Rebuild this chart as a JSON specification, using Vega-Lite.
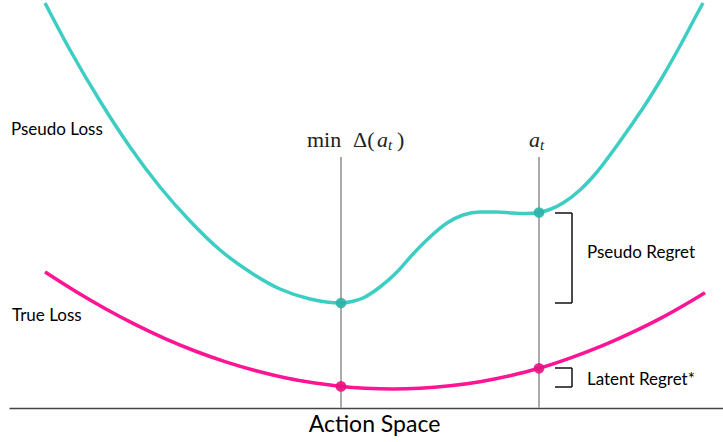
{
  "$schema": "https://vega.github.io/schema/vega-lite/v6.json",
  "width": 714,
  "height": 408,
  "autosize": {"type": "none"},
  "padding": {"left": 9, "top": 0, "right": 0, "bottom": 34},
  "background": "white",
  "config": {"view": {"stroke": null}},
  "datasets": {
    "pseudo": [
      {"x": 45, "loss": 405}, {"x": 70, "loss": 358}, {"x": 100, "loss": 307}, {"x": 130, "loss": 261},
      {"x": 160, "loss": 221}, {"x": 190, "loss": 187}, {"x": 220, "loss": 158}, {"x": 250, "loss": 136},
      {"x": 280, "loss": 119}, {"x": 310, "loss": 109}, {"x": 341, "loss": 105}, {"x": 352, "loss": 106.5},
      {"x": 363, "loss": 110}, {"x": 380, "loss": 121}, {"x": 397, "loss": 136}, {"x": 413, "loss": 154},
      {"x": 430, "loss": 171}, {"x": 447, "loss": 185}, {"x": 463, "loss": 193}, {"x": 480, "loss": 196},
      {"x": 497, "loss": 196}, {"x": 513, "loss": 195}, {"x": 526, "loss": 194.5}, {"x": 539, "loss": 195.5},
      {"x": 551, "loss": 199}, {"x": 563, "loss": 205}, {"x": 580, "loss": 218}, {"x": 597, "loss": 236},
      {"x": 613, "loss": 257}, {"x": 630, "loss": 281}, {"x": 647, "loss": 306}, {"x": 663, "loss": 332},
      {"x": 680, "loss": 362}, {"x": 697, "loss": 394}, {"x": 703, "loss": 405}
    ],
    "trueLoss": [
      {"x": 45, "loss": 136}, {"x": 75, "loss": 117}, {"x": 105, "loss": 99.5}, {"x": 135, "loss": 83.6},
      {"x": 165, "loss": 69.4}, {"x": 195, "loss": 57}, {"x": 225, "loss": 46.4}, {"x": 255, "loss": 37.5},
      {"x": 285, "loss": 30.3}, {"x": 315, "loss": 24.9}, {"x": 341, "loss": 21.6}, {"x": 365, "loss": 19.8},
      {"x": 393, "loss": 19}, {"x": 420, "loss": 19.7}, {"x": 450, "loss": 22.2}, {"x": 480, "loss": 26.3},
      {"x": 510, "loss": 32.3}, {"x": 539, "loss": 39.7}, {"x": 570, "loss": 49.9}, {"x": 600, "loss": 61.3},
      {"x": 630, "loss": 74.6}, {"x": 660, "loss": 89.4}, {"x": 690, "loss": 106.3}, {"x": 705, "loss": 115.3}
    ],
    "pseudoPts": [{"x": 341, "loss": 105}, {"x": 539, "loss": 195.5}],
    "truePts": [{"x": 341, "loss": 21.6}, {"x": 539, "loss": 39.7}],
    "guides": [{"x": 341, "bottom": 0, "top": 251}, {"x": 539, "bottom": 0, "top": 251}],
    "brackets": [
      {"x": 555, "x2": 572, "y": 195, "y2": 195},
      {"x": 572, "x2": 572, "y": 195, "y2": 105},
      {"x": 555, "x2": 572, "y": 105, "y2": 105},
      {"x": 555, "x2": 572, "y": 40, "y2": 40},
      {"x": 572, "x2": 572, "y": 40, "y2": 21},
      {"x": 555, "x2": 572, "y": 21, "y2": 21}
    ],
    "labels": [
      {"text": "Pseudo Loss", "x": 11, "y": 278},
      {"text": "True Loss", "x": 12, "y": 92},
      {"text": "Pseudo Regret", "x": 587, "y": 155},
      {"text": "Latent Regret*", "x": 587, "y": 28}
    ],
    "mathUp": [
      {"text": "min", "x": 307, "y": 261},
      {"text": "Δ(", "x": 353, "y": 261},
      {"text": ")", "x": 397, "y": 261}
    ],
    "mathIt": [
      {"text": "a", "x": 377, "y": 261},
      {"text": "a", "x": 529, "y": 261}
    ],
    "mathSub": [
      {"text": "t", "x": 388, "y": 258},
      {"text": "t", "x": 540, "y": 258}
    ]
  },
  "layer": [
    {
      "data": {"name": "guides"},
      "mark": {"type": "rule", "color": "#aaaaaa", "strokeWidth": 2},
      "encoding": {
        "x": {"field": "x", "type": "quantitative", "scale": {"domain": [9, 723], "nice": false, "zero": false},
              "axis": {"title": "Action Space", "ticks": false, "labels": false, "grid": false,
                       "domainColor": "#444444", "domainWidth": 1.5,
                       "titleFont": "Lato", "titleFontSize": 23, "titleFontWeight": "normal", "titleColor": "#000000",
                       "titleX": 365, "titleY": 23, "titleBaseline": "alphabetic", "titleAlign": "center"}},
        "y": {"field": "bottom", "type": "quantitative", "scale": {"domain": [0, 408], "nice": false, "zero": false}, "axis": null},
        "y2": {"field": "top"}
      }
    },
    {
      "data": {"name": "pseudo"},
      "mark": {"type": "line", "color": "#3ecdc2", "strokeWidth": 3.5, "interpolate": "monotone"},
      "encoding": {
        "x": {"field": "x", "type": "quantitative"},
        "y": {"field": "loss", "type": "quantitative"}
      }
    },
    {
      "data": {"name": "trueLoss"},
      "mark": {"type": "line", "color": "#ff1493", "strokeWidth": 3.5, "interpolate": "monotone"},
      "encoding": {
        "x": {"field": "x", "type": "quantitative"},
        "y": {"field": "loss", "type": "quantitative"}
      }
    },
    {
      "data": {"name": "pseudoPts"},
      "mark": {"type": "circle", "color": "#2bb3a8", "size": 115, "opacity": 0.9},
      "encoding": {
        "x": {"field": "x", "type": "quantitative"},
        "y": {"field": "loss", "type": "quantitative"}
      }
    },
    {
      "data": {"name": "truePts"},
      "mark": {"type": "circle", "color": "#e8127f", "size": 115, "opacity": 0.9},
      "encoding": {
        "x": {"field": "x", "type": "quantitative"},
        "y": {"field": "loss", "type": "quantitative"}
      }
    },
    {
      "data": {"name": "brackets"},
      "mark": {"type": "rule", "color": "#111111", "strokeWidth": 1.5},
      "encoding": {
        "x": {"field": "x", "type": "quantitative"},
        "x2": {"field": "x2"},
        "y": {"field": "y", "type": "quantitative"},
        "y2": {"field": "y2"}
      }
    },
    {
      "data": {"name": "labels"},
      "mark": {"type": "text", "align": "left", "baseline": "middle", "font": "Lato", "fontSize": 17, "color": "#000000"},
      "encoding": {
        "x": {"field": "x", "type": "quantitative"},
        "y": {"field": "y", "type": "quantitative"},
        "text": {"field": "text"}
      }
    },
    {
      "data": {"name": "mathUp"},
      "mark": {"type": "text", "align": "left", "baseline": "alphabetic", "font": "Liberation Serif", "fontSize": 22, "color": "#222222"},
      "encoding": {
        "x": {"field": "x", "type": "quantitative"},
        "y": {"field": "y", "type": "quantitative"},
        "text": {"field": "text"}
      }
    },
    {
      "data": {"name": "mathIt"},
      "mark": {"type": "text", "align": "left", "baseline": "alphabetic", "font": "Liberation Serif", "fontStyle": "italic", "fontSize": 22, "color": "#222222"},
      "encoding": {
        "x": {"field": "x", "type": "quantitative"},
        "y": {"field": "y", "type": "quantitative"},
        "text": {"field": "text"}
      }
    },
    {
      "data": {"name": "mathSub"},
      "mark": {"type": "text", "align": "left", "baseline": "alphabetic", "font": "Liberation Serif", "fontStyle": "italic", "fontSize": 15, "color": "#222222"},
      "encoding": {
        "x": {"field": "x", "type": "quantitative"},
        "y": {"field": "y", "type": "quantitative"},
        "text": {"field": "text"}
      }
    }
  ]
}
